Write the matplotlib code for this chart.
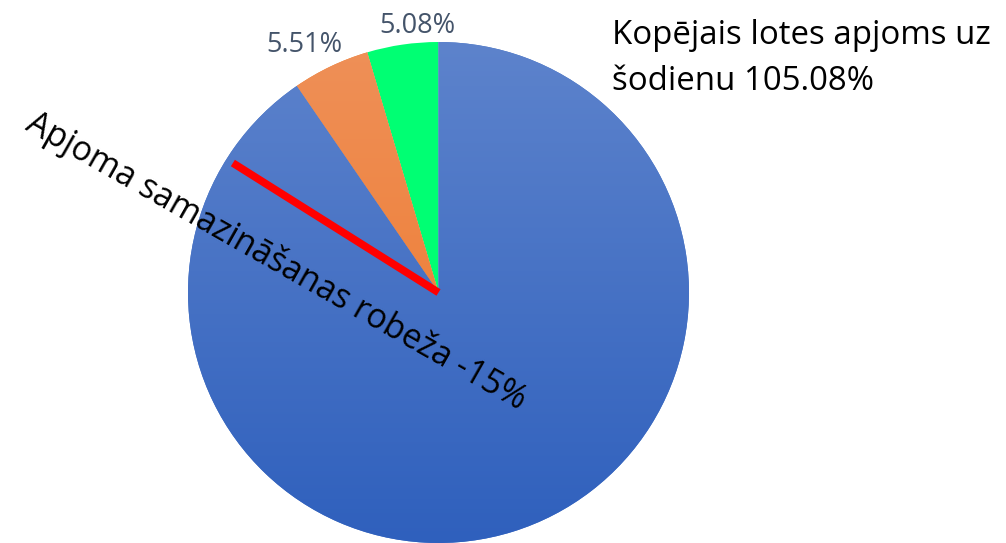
import numpy as np
from matplotlib import pyplot as plt
from matplotlib.colors import LinearSegmentedColormap

# pie data (counter-clockwise from the top)
values = [5.08, 5.51, 100.0]
labels = ["5.08%", "5.51%", ""]
colors = ["#00ff73", "#f07d2e", "#4472c4"]
# vertical gradients (top colour, bottom colour); None = flat fill
gradients = [None, ("#ee9058", "#ef7626"), ("#5d83cc", "#2f60bd")]

total_text = "Kopējais lotes apjoms uz\nšodienu 105.08%"
limit_text = "Apjoma samazināšanas robeža -15%"
limit_angle = 147.8  # degrees, direction of the red limit line

plt.rcParams['font.family'] = ['Open Sans', 'DejaVu Sans']

fig = plt.figure(figsize=(10.06, 5.43), dpi=100)
ax = fig.add_axes([0, 0, 1, 1])

cx, cy, r = 438.5, 250.5, 250.5
wedges, _ = ax.pie(values, colors=colors, startangle=90, counterclock=True,
                   center=(cx, cy), radius=r, frame=True,
                   wedgeprops=dict(linewidth=0))
ax.set_xlim(0, 1006)
ax.set_ylim(0, 543)
ax.set_aspect('equal')
ax.axis('off')

# gradient fills clipped to the wedges
grad = np.linspace(0, 1, 256).reshape(-1, 1)
for w, g in zip(wedges, gradients):
    if g is None:
        continue
    cmap = LinearSegmentedColormap.from_list("g", [g[0], g[1]])
    im = ax.imshow(grad, cmap=cmap, aspect='auto',
                   extent=(cx - r, cx + r, cy - r, cy + r), origin='upper',
                   zorder=w.get_zorder() + 0.1, interpolation='bilinear')
    im.set_clip_path(w)

# outside labels
cum = 0
label_shift = [(18, -5), (-16, 0)]
for i, (v, lab) in enumerate(zip(values, labels)):
    if lab:
        mid = np.deg2rad(90 + (cum + v / 2) / sum(values) * 360)
        ax.text(cx + (r + 24) * np.cos(mid) + label_shift[i][0],
                cy + (r + 24) * np.sin(mid) + label_shift[i][1], lab,
                ha='center', va='center', fontsize=19.5, color="#44546a")
    cum += v

# red limit line
a = np.deg2rad(limit_angle)
ax.plot([cx, cx + 0.97 * r * np.cos(a)], [cy, cy + 0.97 * r * np.sin(a)],
        color="#ff0000", linewidth=5.5, solid_capstyle='butt', zorder=5)

ax.text(612, 524, total_text, ha='left', va='top', fontsize=23.8,
        color="black", linespacing=1.54)

ax.text(276, 282, limit_text, ha='center', va='center', fontsize=24.2,
        rotation=-29.6, rotation_mode='anchor', color="black", zorder=6)

fig.savefig("out.png", dpi=100)
